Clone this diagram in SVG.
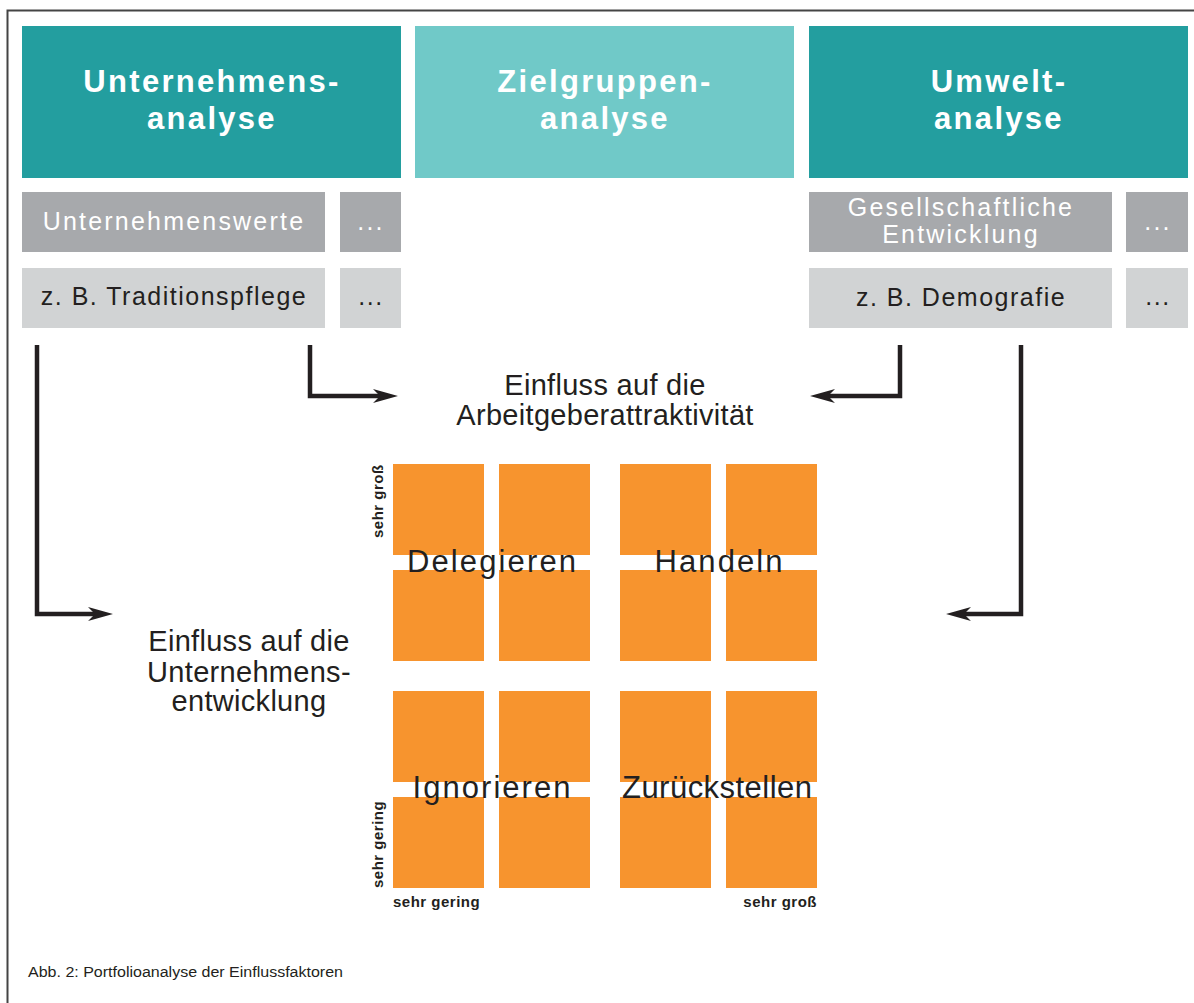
<svg xmlns="http://www.w3.org/2000/svg" width="1194" height="1003" viewBox="0 0 1194 1003">
  <style>
    text { font-family: "Liberation Sans", Arial, Helvetica, sans-serif; }
    .head { fill: #ffffff; font-size: 31px; font-weight: bold; letter-spacing: 2.3px; text-anchor: middle; }
    .teal { fill: #239e9f; }
    .teal-light { fill: #70c9c8; }
    .gray-dark { fill: #a7a9ac; }
    .gray-light { fill: #d1d3d4; }
    .t-dark { fill: #ffffff; font-size: 25px; letter-spacing: 2.2px; text-anchor: middle; }
    .t-light { fill: #231f20; font-size: 25px; letter-spacing: 1.5px; text-anchor: middle; }
    .label { fill: #231f20; font-size: 29px; letter-spacing: 0.3px; text-anchor: middle; }
    .cell { fill: #f7942e; }
    .quad { fill: #231f20; font-size: 31px; text-anchor: middle; }
    .axis { fill: #231f20; font-size: 15px; font-weight: bold; letter-spacing: 0.5px; }
    .conn { fill: none; stroke: #231f20; stroke-width: 4.5; stroke-linejoin: miter; marker-end: url(#head); }
    .caption { fill: #231f20; font-size: 15.5px; }
  </style>
  <defs>
    <marker id="head" markerUnits="userSpaceOnUse" markerWidth="26" markerHeight="16" viewBox="0 -8 26 16" refX="7" refY="0" orient="auto">
      <path d="M25,0 L0,-7 L7,0 L0,7 Z" fill="#231f20"/>
    </marker>
  </defs>

  <rect width="1194" height="1003" fill="#ffffff"/>
  <!-- frame -->
  <path d="M7.5,1003 V10.5 H1194" fill="none" stroke="#444444" stroke-width="2"/>

  <!-- header columns -->
  <g id="unternehmensanalyse">
    <rect class="teal" x="22" y="26" width="379" height="152"/>
    <text class="head" x="212" y="92">Unternehmens-</text>
    <text class="head" x="212" y="129">analyse</text>
  </g>
  <g id="zielgruppenanalyse">
    <rect class="teal-light" x="415" y="26" width="379" height="152"/>
    <text class="head" x="605" y="92">Zielgruppen-</text>
    <text class="head" x="605" y="129">analyse</text>
  </g>
  <g id="umweltanalyse">
    <rect class="teal" x="809" y="26" width="379" height="152"/>
    <text class="head" x="999" y="92">Umwelt-</text>
    <text class="head" x="999" y="129">analyse</text>
  </g>

  <!-- factor rows -->
  <g id="unternehmenswerte">
    <rect class="gray-dark" x="22" y="192" width="303" height="60"/>
    <text class="t-dark" x="174" y="230">Unternehmenswerte</text>
  </g>
  <g id="unternehmen-weitere">
    <rect class="gray-dark" x="340" y="192" width="61" height="60"/>
    <text class="t-dark" x="371" y="230">...</text>
  </g>
  <g id="traditionspflege">
    <rect class="gray-light" x="22" y="268" width="303" height="60"/>
    <text class="t-light" x="174" y="305">z. B. Traditionspflege</text>
  </g>
  <g id="unternehmen-beispiele">
    <rect class="gray-light" x="340" y="268" width="61" height="60"/>
    <text class="t-light" x="371" y="305">...</text>
  </g>
  <g id="gesellschaft">
    <rect class="gray-dark" x="809" y="192" width="303" height="60"/>
    <text class="t-dark" x="961" y="216">Gesellschaftliche</text>
    <text class="t-dark" x="961" y="243">Entwicklung</text>
  </g>
  <g id="umwelt-weitere">
    <rect class="gray-dark" x="1126" y="192" width="62" height="60"/>
    <text class="t-dark" x="1158" y="230">...</text>
  </g>
  <g id="demografie">
    <rect class="gray-light" x="809" y="268" width="303" height="60"/>
    <text class="t-light" x="961" y="306">z. B. Demografie</text>
  </g>
  <g id="umwelt-beispiele">
    <rect class="gray-light" x="1126" y="268" width="62" height="60"/>
    <text class="t-light" x="1158" y="305">...</text>
  </g>

  <!-- axis captions -->
  <g id="arbeitgeberattraktivitaet">
    <text class="label" x="605" y="395">Einfluss auf die</text>
    <text class="label" x="605" y="425">Arbeitgeberattraktivität</text>
  </g>
  <g id="unternehmensentwicklung">
    <text class="label" x="249" y="651">Einfluss auf die</text>
    <text class="label" x="249" y="682">Unternehmens-</text>
    <text class="label" x="249" y="711">entwicklung</text>
  </g>

  <!-- connectors -->
  <g id="connectors">
    <path class="conn" d="M310,345 V396 H380"/>
    <path class="conn" d="M900,345 V396 H828"/>
    <path class="conn" d="M37,345 V614 H95"/>
    <path class="conn" d="M1021,345 V614 H964"/>
  </g>

  <!-- portfolio matrix -->
  <g id="delegieren">
    <rect class="cell" x="393" y="464" width="91" height="91"/>
    <rect class="cell" x="499" y="464" width="91" height="91"/>
    <rect class="cell" x="393" y="570" width="91" height="91"/>
    <rect class="cell" x="499" y="570" width="91" height="91"/>
    <text class="quad" x="491.5" y="572" textLength="169" lengthAdjust="spacing">Delegieren</text>
  </g>
  <g id="handeln">
    <rect class="cell" x="620" y="464" width="91" height="91"/>
    <rect class="cell" x="726" y="464" width="91" height="91"/>
    <rect class="cell" x="620" y="570" width="91" height="91"/>
    <rect class="cell" x="726" y="570" width="91" height="91"/>
    <text class="quad" x="718.5" y="572" textLength="128" lengthAdjust="spacing">Handeln</text>
  </g>
  <g id="ignorieren">
    <rect class="cell" x="393" y="691" width="91" height="91"/>
    <rect class="cell" x="499" y="691" width="91" height="91"/>
    <rect class="cell" x="393" y="797" width="91" height="91"/>
    <rect class="cell" x="499" y="797" width="91" height="91"/>
    <text class="quad" x="491.5" y="798" textLength="158" lengthAdjust="spacing">Ignorieren</text>
  </g>
  <g id="zurueckstellen">
    <rect class="cell" x="620" y="691" width="91" height="91"/>
    <rect class="cell" x="726" y="691" width="91" height="91"/>
    <rect class="cell" x="620" y="797" width="91" height="91"/>
    <rect class="cell" x="726" y="797" width="91" height="91"/>
    <text class="quad" x="717" y="798" textLength="190" lengthAdjust="spacing">Zurückstellen</text>
  </g>

  <!-- scale ends -->
  <g id="scale">
    <text class="axis" transform="translate(383,538) rotate(-90)">sehr groß</text>
    <text class="axis" transform="translate(383,888) rotate(-90)">sehr gering</text>
    <text class="axis" x="393" y="907">sehr gering</text>
    <text class="axis" x="817" y="907" text-anchor="end">sehr groß</text>
  </g>

  <text class="caption" x="28" y="977" textLength="315" lengthAdjust="spacingAndGlyphs">Abb. 2: Portfolioanalyse der Einflussfaktoren</text>
</svg>
